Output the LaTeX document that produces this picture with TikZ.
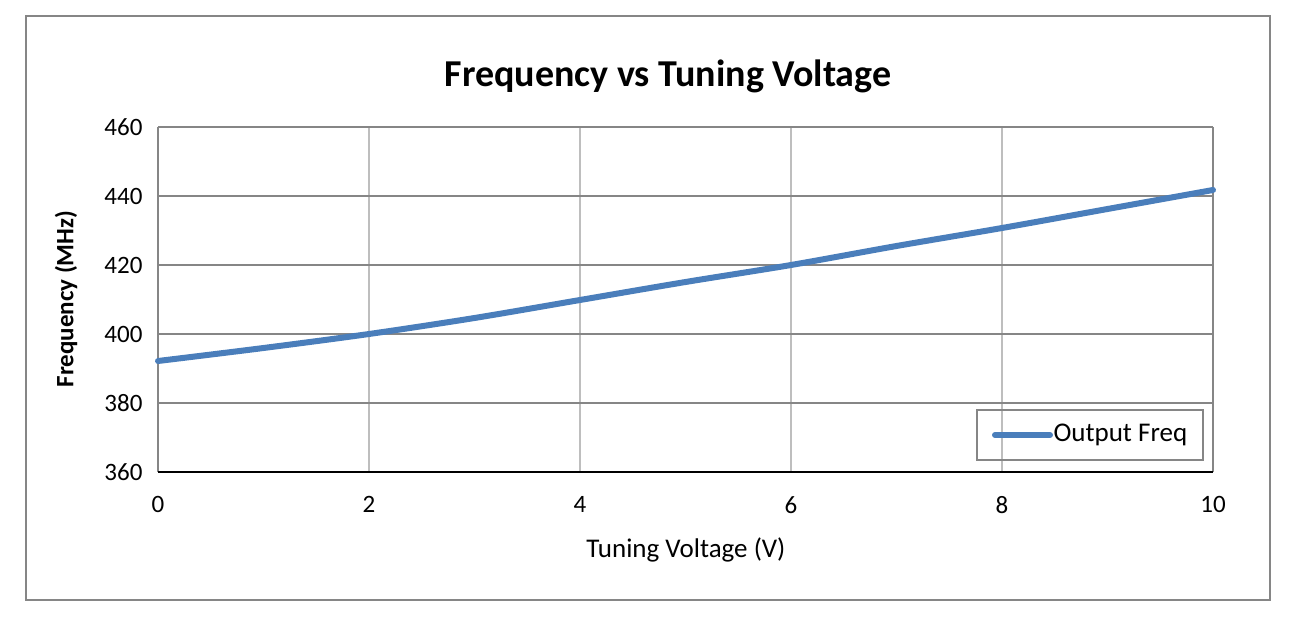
\documentclass[tikz,border=0pt]{standalone}
\usepackage{fontspec}
\setmainfont{Carlito}
\usetikzlibrary{positioning}
\definecolor{curveblue}{RGB}{74,126,187}
\definecolor{gridgray}{RGB}{190,190,190}
\definecolor{framegray}{RGB}{134,134,134}

\begin{document}
\begin{tikzpicture}[x=1pt, y=-1pt,
    tick/.style={font=\fontsize{25}{28}\selectfont},
    axislabel/.style={font=\fontsize{27}{30}\selectfont},
    curve/.style={curveblue, line width=6pt, line cap=round}]

    \useasboundingbox (0,0) rectangle (1304,620);
    \draw[framegray, line width=1.5pt] (26,16) rectangle (1270,600);

    \node[font=\fontsize{38}{42}\selectfont\bfseries] (title) at (668,76) {Frequency vs Tuning Voltage};

    % grid
    \foreach \i in {1,...,4}
        \draw[gridgray, line width=1.5pt] (158+211*\i,127) -- (158+211*\i,472);
    \foreach \j in {0,...,4}
        \draw[framegray, line width=1.5pt] (158,127+69*\j) -- (1213,127+69*\j);
    \draw[framegray, line width=1.5pt] (158,127) -- (158,472) (1213,127) -- (1213,472);
    \draw[black, line width=1.5pt] (158,472) -- (1213,472);

    % tick labels
    \foreach \v [count=\j from 0] in {460,440,420,400,380,360}
        \node[tick, anchor=east] (y\v) at (146,127+69*\j) {\v};
    \foreach \v [count=\i from 0] in {0,2,4,6,8,10}
        \node[tick, anchor=north] (x\v) at (158+211*\i,493) {\v};

    \node[axislabel] (xlabel) at (686,550) {Tuning Voltage (V)};
    \node[axislabel, font=\fontsize{25}{28}\selectfont\bfseries, rotate=90] (ylabel) at (66,299) {Frequency (MHz)};

    % data
    \draw[curve] plot[smooth] coordinates {
        (158,361) (263.5,348) (369,334) (474.5,318) (580,300) (685.5,282)
        (791,265) (896.5,246) (1002,228) (1107.5,209) (1213,190)};

    % legend
    \node[draw=framegray, line width=1.5pt, minimum width=226pt, minimum height=50pt] (legend) at (1090,435) {};
    \draw[curve] (995,435) -- (1050,435);
    \node[tick, font=\fontsize{27}{30}\selectfont, anchor=west] (legendtext) at (1050,435) {Output Freq};
\end{tikzpicture}
\end{document}
